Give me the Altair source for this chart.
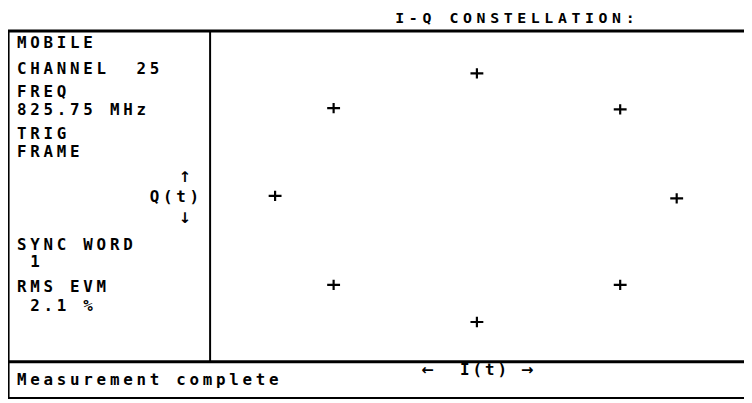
import altair as alt
import pandas as pd

# ---- data: measured I/Q symbol positions (normalised units) ----
i_vals = [0.00, -0.71, -1.00, 0.71, 0.99, -0.71, 0.00, 0.71]
q_vals = [1.00, 0.72, 0.01, 0.71, -0.01, -0.71, -1.01, -0.71]

# ---- display texts ----
title_text = "I-Q CONSTELLATION:"
panel_lines = ["MOBILE", "CHANNEL  25", "FREQ", "825.75 MHz", "TRIG", "FRAME",
               "SYNC WORD", " 1", "RMS EVM", " 2.1 %"]
q_label = ["\u2191", "Q(t)", "\u2193"]
i_label = "\u2190  I(t) \u2192"
status_text = "Measurement complete"

# ---- layout (chart pixel coordinates) ----
W, H = 744, 395
FONT = "DejaVu Sans Mono"
panel_y = [33, 60, 83, 101, 125, 143, 237, 255, 280, 299]
left_x, pitch = 14, 13.4

rows, arrows = [], []
def put(text, x0, y, p, fs, dest=rows):
    for k, ch in enumerate(text):
        if ch != " ":
            dest.append({"ch": ch, "px": x0 + k * p, "py": y, "fs": fs})

put(title_text, 396, 8, 13.7, 15)
for txt, y in zip(panel_lines, panel_y):
    put(txt, left_x, y, pitch, 16)
put(q_label[0], 179, 169, pitch, 15, arrows)
put(q_label[1], 148, 189, pitch, 16)
put(q_label[2], 179, 210, pitch, 15, arrows)
put(i_label[0], 424, 364, 12.6, 15, arrows)
put(i_label[1:-1], 424 + 12.6, 364, 12.6, 16)
put(i_label[-1], 424 + 12.6 * 8, 364, 12.6, 15, arrows)
put(status_text, left_x, 374, pitch, 16)
chars = pd.DataFrame(rows)
arrow_chars = pd.DataFrame(arrows)

segs = pd.DataFrame([
    {"x1": 0, "x2": W, "y1": 21, "y2": 21, "sw": 3},
    {"x1": 0, "x2": W, "y1": 355.5, "y2": 355.5, "sw": 3},
    {"x1": 0, "x2": W, "y1": 392, "y2": 392, "sw": 2},
    {"x1": 0.8, "x2": 0.8, "y1": 21, "y2": 392, "sw": 1.6},
    {"x1": 204.3, "x2": 204.3, "y1": 21, "y2": 355.5, "sw": 2},
])

px_x = alt.Scale(domain=[0, W], range=[0, W])
px_y = alt.Scale(domain=[0, H], range=[0, H])

frame = alt.Chart(segs).mark_rule(color="black").encode(
    x=alt.X("x1:Q", scale=px_x, axis=None),
    x2="x2:Q",
    y=alt.Y("y1:Q", scale=px_y, axis=None),
    y2="y2:Q",
    strokeWidth=alt.StrokeWidth("sw:Q", scale=None),
)

def text_layer(df, font):
    return alt.Chart(df).mark_text(
        font=font, fontWeight="bold", align="center", baseline="middle", color="black"
    ).encode(
        x=alt.X("px:Q", scale=px_x, axis=None),
        y=alt.Y("py:Q", scale=px_y, axis=None),
        text="ch:N",
        size=alt.Size("fs:Q", scale=None),
    )

texts = text_layer(chars, FONT)
arrow_layer = text_layer(arrow_chars, "DejaVu Sans")

iq = pd.DataFrame({"I": i_vals, "Q": q_vals})
points = alt.Chart(iq).mark_point(
    shape="M-1,0L1,0M0,-0.8L0,0.8", filled=False, stroke="black",
    strokeWidth=2.2, size=169, opacity=1
).encode(
    x=alt.X("I:Q", scale=alt.Scale(domain=[-1, 1], range=[270, 678]), axis=None),
    y=alt.Y("Q:Q", scale=alt.Scale(domain=[-1, 1], range=[314, 64]), axis=None),
)

chart = alt.layer(frame, texts, arrow_layer, points).resolve_scale(
    x="independent", y="independent"
).properties(
    width=W, height=H, padding=0, autosize=alt.AutoSizeParams(type="none"),
    background="white",
).configure_view(stroke=None)

chart.save("out.html", embed_options={"renderer": "svg", "actions": False})
